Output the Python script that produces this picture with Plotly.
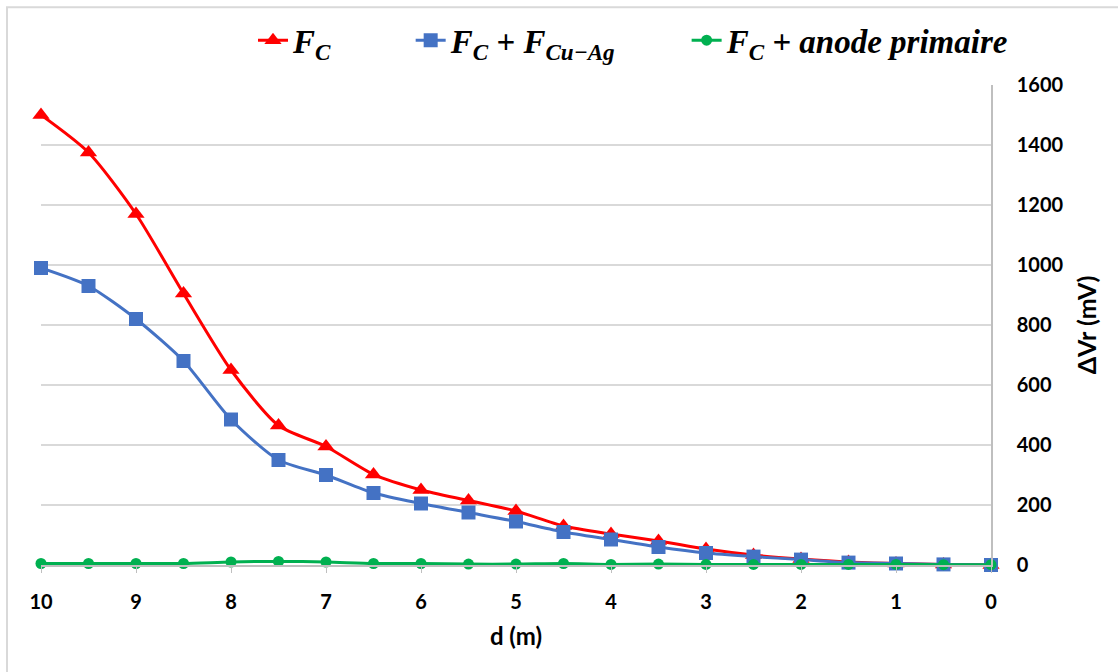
import plotly.graph_objects as go

d = [10, 9.5, 9, 8.5, 8, 7.5, 7, 6.5, 6, 5.5, 5, 4.5, 4, 3.5, 3, 2.5, 2, 1.5, 1, 0.5, 0]
fc = [1500, 1375, 1170, 905, 650, 465, 395, 302, 250, 215, 180, 130, 103, 80, 53, 33, 20, 10, 5, 2, 0]
fc_cuag = [990, 930, 820, 680, 485, 350, 300, 240, 205, 175, 145, 110, 85, 60, 40, 28, 18, 8, 5, 2, 0]
fc_anode = [5, 5, 5, 5, 10, 12, 10, 5, 5, 3, 3, 5, 2, 3, 2, 2, 2, 2, 2, 1, 1]

names = [
    "<b><i>F<sub>C</sub></i></b>" + "\u00a0" * 9,
    "<b><i>F<sub>C</sub> + F<sub>Cu\u2212Ag</sub></i></b>" + "\u00a0" * 8,
    "<b><i>F<sub>C</sub> + anode primaire</i></b>",
]

fig = go.Figure()
fig.add_trace(go.Scatter(x=d, y=fc, name=names[0], mode="lines+markers", cliponaxis=False,
                         line=dict(color="#FF0000", width=3, shape="spline", smoothing=0.7),
                         marker=dict(symbol="triangle-up", size=15, color="#FF0000")))
fig.add_trace(go.Scatter(x=d, y=fc_cuag, name=names[1], mode="lines+markers", cliponaxis=False,
                         line=dict(color="#4472C4", width=3, shape="spline", smoothing=0.7),
                         marker=dict(symbol="square", size=14, color="#4472C4")))
fig.add_trace(go.Scatter(x=d, y=fc_anode, name=names[2], mode="lines+markers", cliponaxis=False,
                         line=dict(color="#00B050", width=3, shape="spline", smoothing=0.7),
                         marker=dict(symbol="circle", size=11, color="#00B050")))

L, R, T, B = 41, 991, 83, 565
W, H = 1118, 672
pw, ph = R - L, B - T
def px(x): return (x - L) / pw
def py(y): return (B - y) / ph

fig.update_layout(
    width=W, height=H,
    margin=dict(l=L, r=W - R, t=T, b=H - B),
    paper_bgcolor="white", plot_bgcolor="white",
    font=dict(family="Lato", size=20, color="#000000"),
    showlegend=True,
    legend=dict(orientation="h", x=px(253), y=py(38), xanchor="left", yanchor="middle",
                font=dict(family="Liberation Serif", size=33, color="#000000"),
                itemwidth=30, bgcolor="rgba(0,0,0,0)"),
    xaxis=dict(range=[10, 0], tickmode="array", tickvals=list(range(0, 11)),
               ticks="outside", ticklen=6, tickcolor="#bfbfbf", ticklabelstandoff=12,
               showline=True, linecolor="#bfbfbf", linewidth=1.5,
               showgrid=False, zeroline=False,
               tickfont=dict(family="Lato", size=20, weight="bold"),
               title=dict(text="<b>d (m)</b>", font=dict(family="Lato", size=24), standoff=16)),
    yaxis=dict(range=[0, 1600], side="right", dtick=200,
               showline=True, linecolor="#bfbfbf", linewidth=1.5,
               showgrid=True, gridcolor="#d9d9d9", gridwidth=1.5,
               zeroline=False, ticks="", ticklabelstandoff=20,
               tickfont=dict(family="Lato", size=20, weight="bold"),
               title=dict(text="<b>\u0394Vr (mV)</b>", font=dict(family="Lato", size=25), standoff=16)),
    shapes=[dict(type="rect", xref="paper", yref="paper",
                 x0=px(7), x1=px(1130), y0=py(690), y1=py(5),
                 line=dict(color="#d9d9d9", width=2), layer="below")],
)

fig.write_html("out.html", config={"displayModeBar": False},
               post_script="document.body.style.margin='0';")
